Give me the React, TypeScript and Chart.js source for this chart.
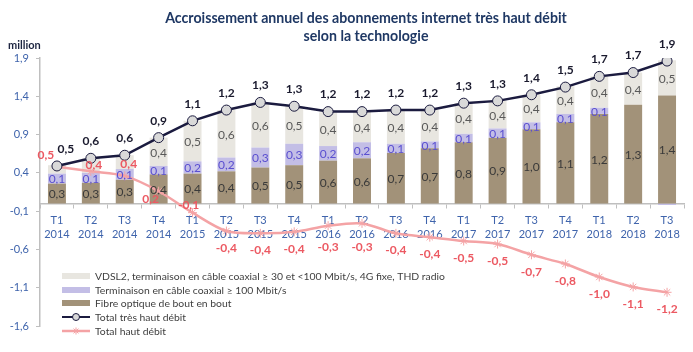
import React, { useEffect, useRef } from 'react';
import { Chart, registerables } from 'chart.js';

Chart.register(...registerables);

const quarters = ['T1', 'T2', 'T3', 'T4', 'T1', 'T2', 'T3', 'T4', 'T1', 'T2', 'T3', 'T4', 'T1', 'T2', 'T3', 'T4', 'T1', 'T2', 'T3'];
const years = ['2014', '2014', '2014', '2014', '2015', '2015', '2015', '2015', '2016', '2016', '2016', '2016', '2017', '2017', '2017', '2017', '2018', '2018', '2018'];

const fibre = [0.26, 0.27, 0.31, 0.38, 0.39, 0.42, 0.47, 0.50, 0.56, 0.59, 0.66, 0.72, 0.80, 0.86, 0.97, 1.06, 1.17, 1.29, 1.41];
const coax100 = [0.13, 0.13, 0.14, 0.11, 0.16, 0.18, 0.26, 0.28, 0.19, 0.21, 0.12, 0.09, 0.11, 0.12, 0.09, 0.11, 0.08, 0, -0.02];
const vdsl = [0.11, 0.19, 0.18, 0.37, 0.53, 0.62, 0.59, 0.49, 0.44, 0.40, 0.44, 0.41, 0.40, 0.36, 0.36, 0.36, 0.41, 0.42, 0.46];
const totalTHD = [0.49, 0.59, 0.63, 0.86, 1.08, 1.22, 1.32, 1.27, 1.20, 1.20, 1.22, 1.22, 1.31, 1.34, 1.42, 1.52, 1.66, 1.71, 1.86];
const totalHD = [0.48, 0.42, 0.36, 0.16, -0.12, -0.36, -0.39, -0.37, -0.29, -0.26, -0.39, -0.44, -0.49, -0.53, -0.67, -0.79, -0.96, -1.09, -1.16];

const yTicks = [-1.6, -1.1, -0.6, -0.1, 0.4, 0.9, 1.4, 1.9];

const titleLines = ['Accroissement annuel des abonnements internet très haut débit', 'selon la technologie'];
const unitLabel = 'million';
const legendLabels = [
  'VDSL2, terminaison en câble coaxial ≥ 30 et <100 Mbit/s, 4G fixe, THD radio',
  'Terminaison en câble coaxial ≥ 100 Mbit/s',
  'Fibre optique de bout en bout',
  'Total très haut débit',
  'Total haut débit',
];

const C_GREY = '#E8E6E0';
const C_PURPLE = '#C3BEE6';
const C_BROWN = '#A29279';
const C_NAVY = '#1B1B3F';
const C_PINK = '#F4A3A5';
const C_RED = '#EC5962';
const C_AXIS_TXT = '#3F64AC';
const FONT = 'Lato, "Open Sans", sans-serif';

const fmt = (v: number) => v.toFixed(1).replace('.', ',');

const decorPlugin = {
  id: 'decor',
  afterDatasetsDraw(chart: any) {
    const ctx = chart.ctx as CanvasRenderingContext2D;
    ctx.save();
    ctx.textAlign = 'center';
    ctx.textBaseline = 'middle';
    const barDefs = [
      { ds: 0, color: '#3A3A3A', min: 0 },
      { ds: 1, color: '#5A4FD0', min: 0.05 },
      { ds: 2, color: '#595959', min: 0 },
    ];
    ctx.font = `12px ${FONT}`;
    barDefs.forEach((d) => {
      const meta = chart.getDatasetMeta(d.ds);
      const data = chart.data.datasets[d.ds].data as number[];
      meta.data.forEach((el: any, i: number) => {
        const v = data[i];
        if (v < d.min || v <= 0.05) return;
        if (d.ds === 2 && i < 3) return;
        ctx.fillStyle = d.color;
        ctx.fillText(fmt(v), el.x, (el.y + el.base) / 2 + 1);
      });
    });
    ctx.font = `bold 12px ${FONT}`;
    ctx.fillStyle = '#1A1A2E';
    const navyMeta = chart.getDatasetMeta(3);
    navyMeta.data.forEach((el: any, i: number) => {
      const dx = i === 0 ? 9 : 0;
      ctx.fillText(fmt(totalTHD[i]), el.x + dx, el.y - 17);
    });
    const axisY = chart.scales.y.getPixelForValue(0);
    ctx.fillStyle = C_RED;
    const redMeta = chart.getDatasetMeta(4);
    redMeta.data.forEach((el: any, i: number) => {
      let dx = 0;
      let dy = 0;
      if (i === 0) { dx = -11; dy = -12; }
      else if (i === 1) { dx = 3; dy = -6; }
      else if (i === 2) { dx = 4; dy = -12; }
      else if (i === 3) { dx = -8; dy = 8; }
      else if (i === 4) { dx = -4; dy = -8; }
      else { dy = Math.max(17, axisY + 44 - el.y); }
      ctx.fillText(fmt(totalHD[i]), el.x + dx, el.y + dy);
    });
    ctx.restore();
  },
  afterDraw(chart: any) {
    const ctx = chart.ctx as CanvasRenderingContext2D;
    ctx.save();
    ctx.fillStyle = '#1F3864';
    ctx.textAlign = 'center';
    ctx.textBaseline = 'middle';
    ctx.font = `bold 14px ${FONT}`;
    const w = ctx.measureText(titleLines[0]).width;
    const size = 14 * 402 / w;
    ctx.font = `bold ${size.toFixed(2)}px ${FONT}`;
    ctx.fillText(titleLines[0], 366, 18);
    ctx.fillText(titleLines[1], 366, 36);
    ctx.textAlign = 'left';
    ctx.fillStyle = '#1C2440';
    ctx.font = `bold 11px ${FONT}`;
    ctx.fillText(unitLabel, 8, 45);
    ctx.font = `11px ${FONT}`;
    const lw = ctx.measureText(legendLabels[0]).width;
    const lsize = 11 * 350 / lw;
    ctx.font = `${lsize.toFixed(2)}px ${FONT}`;
    const rows = [276, 290, 303, 317, 331];
    const bx = 62, bw = 28;
    const boxColors = [C_GREY, C_PURPLE, C_BROWN];
    rows.forEach((ry, k) => {
      if (k < 3) {
        ctx.fillStyle = boxColors[k];
        ctx.fillRect(bx, ry - 3, bw, 6);
      } else if (k === 3) {
        ctx.strokeStyle = C_NAVY;
        ctx.lineWidth = 2;
        ctx.beginPath();
        ctx.moveTo(bx, ry);
        ctx.lineTo(bx + bw, ry);
        ctx.stroke();
        ctx.beginPath();
        ctx.arc(bx + bw / 2, ry, 3.5, 0, Math.PI * 2);
        ctx.fillStyle = '#D9D9D9';
        ctx.fill();
        ctx.lineWidth = 1;
        ctx.stroke();
      } else {
        ctx.strokeStyle = C_PINK;
        ctx.lineWidth = 2.5;
        ctx.beginPath();
        ctx.moveTo(bx, ry);
        ctx.lineTo(bx + bw, ry);
        ctx.stroke();
        ctx.lineWidth = 1;
        const cx = bx + bw / 2, r = 3.5;
        ctx.beginPath();
        ctx.moveTo(cx - r, ry); ctx.lineTo(cx + r, ry);
        ctx.moveTo(cx, ry - r); ctx.lineTo(cx, ry + r);
        ctx.moveTo(cx - r * 0.7, ry - r * 0.7); ctx.lineTo(cx + r * 0.7, ry + r * 0.7);
        ctx.moveTo(cx - r * 0.7, ry + r * 0.7); ctx.lineTo(cx + r * 0.7, ry - r * 0.7);
        ctx.stroke();
      }
      ctx.fillStyle = '#404040';
      ctx.fillText(legendLabels[k], 95, ry + 1);
    });
    ctx.restore();
  },
};

export default function App() {
  const canvasRef = useRef<HTMLCanvasElement | null>(null);

  useEffect(() => {
    if (!canvasRef.current) return;
    const labels = quarters.map((q, i) => [q, years[i]]);
    const chart = new Chart(canvasRef.current, {
      type: 'bar',
      data: {
        labels,
        datasets: [
          { type: 'bar', label: legendLabels[2], data: fibre, backgroundColor: C_BROWN, order: 2, stack: 'bars', barPercentage: 0.53, categoryPercentage: 1 },
          { type: 'bar', label: legendLabels[1], data: coax100, backgroundColor: C_PURPLE, order: 3, stack: 'bars', barPercentage: 0.53, categoryPercentage: 1 },
          { type: 'bar', label: legendLabels[0], data: vdsl, backgroundColor: C_GREY, order: 4, stack: 'bars', barPercentage: 0.53, categoryPercentage: 1 },
          {
            type: 'line', label: legendLabels[3], data: totalTHD, order: 0, stack: 'thd',
            borderColor: C_NAVY, borderWidth: 2.5, tension: 0,
            pointStyle: 'circle', pointRadius: 5, pointBackgroundColor: '#D9D9D9', pointBorderColor: C_NAVY, pointBorderWidth: 1,
          },
          {
            type: 'line', label: legendLabels[4], data: totalHD, order: 1, stack: 'hd',
            borderColor: C_PINK, borderWidth: 2.5, tension: 0.3,
            pointStyle: 'star', pointRadius: 4.5, pointBackgroundColor: C_PINK, pointBorderColor: C_PINK, pointBorderWidth: 1,
          },
        ] as any,
      },
      options: {
        animation: false,
        responsive: true,
        maintainAspectRatio: false,
        layout: { padding: { top: 58, bottom: 26, right: 9, left: 0 } },
        plugins: { legend: { display: false }, title: { display: false }, tooltip: { enabled: false } },
        scales: {
          x: {
            stacked: true,
            position: { y: 0 } as any,
            grid: { display: true, drawOnChartArea: false, offset: true, tickLength: 4, color: '#BFBFBF' },
            border: { display: true, color: '#BFBFBF', width: 1.5 },
            ticks: { color: C_AXIS_TXT, font: { family: FONT, size: 11, lineHeight: 1.3 }, padding: 6, maxRotation: 0, autoSkip: false },
          },
          y: {
            stacked: true,
            min: -1.6,
            max: 1.9,
            afterFit: (scale: any) => { scale.width = 40; },
            afterBuildTicks: (scale: any) => { scale.ticks = yTicks.map((v) => ({ value: v })); },
            grid: { display: true, drawOnChartArea: false, tickLength: 4, color: '#BFBFBF' },
            border: { display: true, color: '#BFBFBF', width: 1.5 },
            ticks: { color: C_AXIS_TXT, font: { family: FONT, size: 11 }, padding: 7, callback: (v: any) => fmt(Number(v)) },
          },
        },
      } as any,
      plugins: [decorPlugin],
    });
    return () => chart.destroy();
  }, []);

  return (
    <div style={{ position: 'fixed', left: 0, top: 0, width: 693, height: 352, background: '#fff' }}>
      <canvas ref={canvasRef} />
    </div>
  );
}
